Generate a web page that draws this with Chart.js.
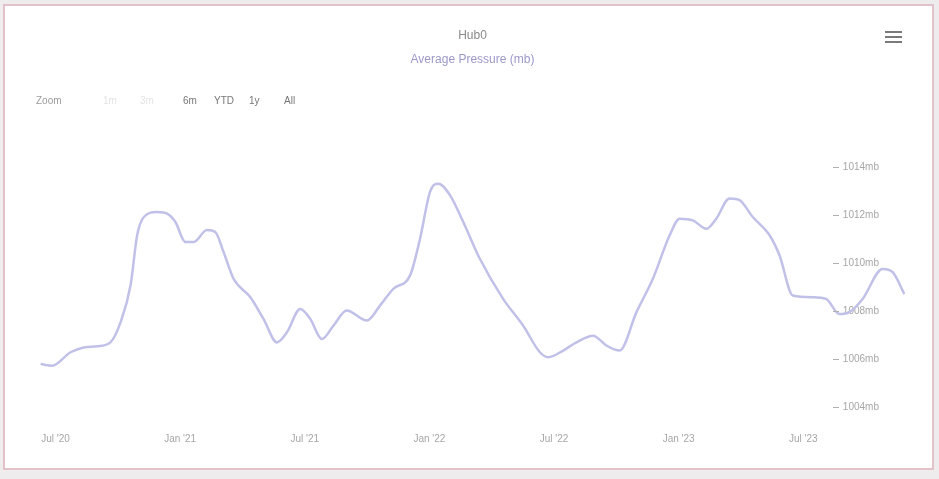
<!DOCTYPE html>
<html>
<head>
<meta charset="utf-8">
<script src="https://cdn.jsdelivr.net/npm/chart.js@4/dist/chart.umd.min.js"></script>
<style>
html,body{margin:0;padding:0;background:#eeecec;}
#wrap{position:relative;width:939px;height:479px;overflow:hidden;}
#card{position:absolute;left:3px;top:4px;width:931px;height:466px;border:2px solid #e2c2c8;background:#fff;box-sizing:border-box;}
#c{position:absolute;left:0;top:0;}
.rs{position:absolute;top:95px;font:10px "Liberation Sans",Arial,sans-serif;color:#777;white-space:nowrap;}
.rs.off{color:#e4e4e4;}
.rs.lbl{color:#9a9a9a;}
#menu{position:absolute;left:885px;top:31px;width:17px;height:13px;}
#menu div{height:2px;background:#7a7a7a;margin-bottom:3px;}
</style>
</head>
<body>
<div id="wrap">
  <div id="card"></div>
  <canvas id="c" width="939" height="479"></canvas>
  <div id="menu"><div></div><div></div><div></div></div>
</div>
<script>
// ---- data ----
const monthsSinceJul2020 = [-0.72,-0.16,0.72,1.36,2.0,2.64,3.13,3.61,3.93,4.25,4.89,5.37,5.77,6.25,6.65,7.29,7.69,8.09,8.57,9.38,10.01,10.66,11.14,11.78,12.26,12.82,13.38,14.02,14.99,15.63,16.26,17.07,17.55,18.03,18.43,18.99,19.63,20.43,21.55,22.51,23.32,23.72,24.44,25.08,25.88,26.52,27.16,27.97,28.76,29.57,30.05,30.69,31.33,31.81,32.45,32.93,33.57,34.38,34.86,35.50,36.46,37.10,37.74,38.22,38.86,39.82,40.30,40.87];
const pressureMb = [1005.79,1005.72,1006.28,1006.48,1006.53,1006.69,1007.53,1009.07,1011.16,1011.91,1012.12,1012.05,1011.70,1010.87,1010.87,1011.37,1011.29,1010.45,1009.34,1008.57,1007.67,1006.69,1007.11,1008.08,1007.67,1006.83,1007.39,1008.02,1007.60,1008.23,1008.92,1009.48,1011.01,1012.96,1013.30,1012.82,1011.70,1010.17,1008.50,1007.39,1006.28,1006.07,1006.35,1006.69,1006.97,1006.56,1006.35,1007.95,1009.34,1011.15,1011.84,1011.77,1011.42,1011.84,1012.68,1012.61,1011.91,1011.15,1010.31,1008.64,1008.57,1008.50,1007.87,1007.95,1008.50,1009.75,1009.62,1008.70];
const xTickMonths = [0,6,12,18,24,30,36];
const xTickLabels = ["Jul '20","Jan '21","Jul '21","Jan '22","Jul '22","Jan '23","Jul '23"];
const yTickValues = [1004,1006,1008,1010,1012,1014];
const rangeLabels = ["Zoom","1m","3m","6m","YTD","1y","All"];
const chartTitle = "Hub0";
const chartSubtitle = "Average Pressure (mb)";

// range selector (text)
const rsX = [36,103,140,183,214,249,284];
const rsClass = ["lbl","off","off","","","",""];
const wrap = document.getElementById('wrap');
rangeLabels.forEach((t,i)=>{
  const s=document.createElement('span');
  s.className='rs '+rsClass[i];
  s.style.left=rsX[i]+'px';
  s.textContent=t;
  wrap.appendChild(s);
});

const dashPlugin = {
  id:'ydash',
  afterDraw(chart){
    const y = chart.scales.y, ctx = chart.ctx;
    ctx.save();
    ctx.strokeStyle = '#b0b0b0';
    ctx.lineWidth = 1;
    y.ticks.forEach(t=>{
      const py = Math.round(y.getPixelForValue(t.value))+0.5;
      ctx.beginPath(); ctx.moveTo(833,py); ctx.lineTo(839,py); ctx.stroke();
    });
    ctx.restore();
  }
};

new Chart(document.getElementById('c'), {
  type:'line',
  data:{datasets:[{
    label:chartSubtitle,
    data: monthsSinceJul2020.map((m,i)=>({x:m,y:pressureMb[i]})),
    borderColor:'#c0c0e8',
    borderWidth:2.5,
    pointRadius:0,
    fill:false,
    cubicInterpolationMode:'monotone'
  }]},
  options:{
    responsive:false,
    animation:false,
    layout:{padding:{left:40,right:34,top:0,bottom:28}},
    plugins:{
      legend:{display:false},
      tooltip:{enabled:false},
      title:{display:true,text:chartTitle,color:'#8a8a8a',font:{family:'"Liberation Sans", Arial, sans-serif',size:12,weight:'normal'},padding:{top:28,bottom:4}},
      subtitle:{display:true,text:chartSubtitle,color:'#9b99c8',font:{family:'"Liberation Sans", Arial, sans-serif',size:12},padding:{top:6,bottom:76}}
    },
    scales:{
      x:{
        type:'linear',
        min:-0.75,max:40.9,
        afterBuildTicks:s=>{s.ticks=xTickMonths.map(v=>({value:v}));},
        ticks:{autoSkip:false,maxRotation:0,color:'#a6a6a6',padding:6,
          font:{family:'"Liberation Sans", Arial, sans-serif',size:10},
          callback:v=>xTickLabels[xTickMonths.indexOf(v)]},
        grid:{display:false},
        border:{display:false}
      },
      y:{
        position:'right',
        min:1003.5,max:1015,
        afterBuildTicks:s=>{s.ticks=yTickValues.map(v=>({value:v}));},
        ticks:{mirror:true,crossAlign:'far',padding:-26,color:'#a6a6a6',
          font:{family:'"Liberation Sans", Arial, sans-serif',size:10},
          callback:v=>v+'mb'},
        grid:{display:false,drawTicks:false},
        border:{display:false}
      }
    }
  },
  plugins:[dashPlugin]
});
</script>
</body>
</html>
